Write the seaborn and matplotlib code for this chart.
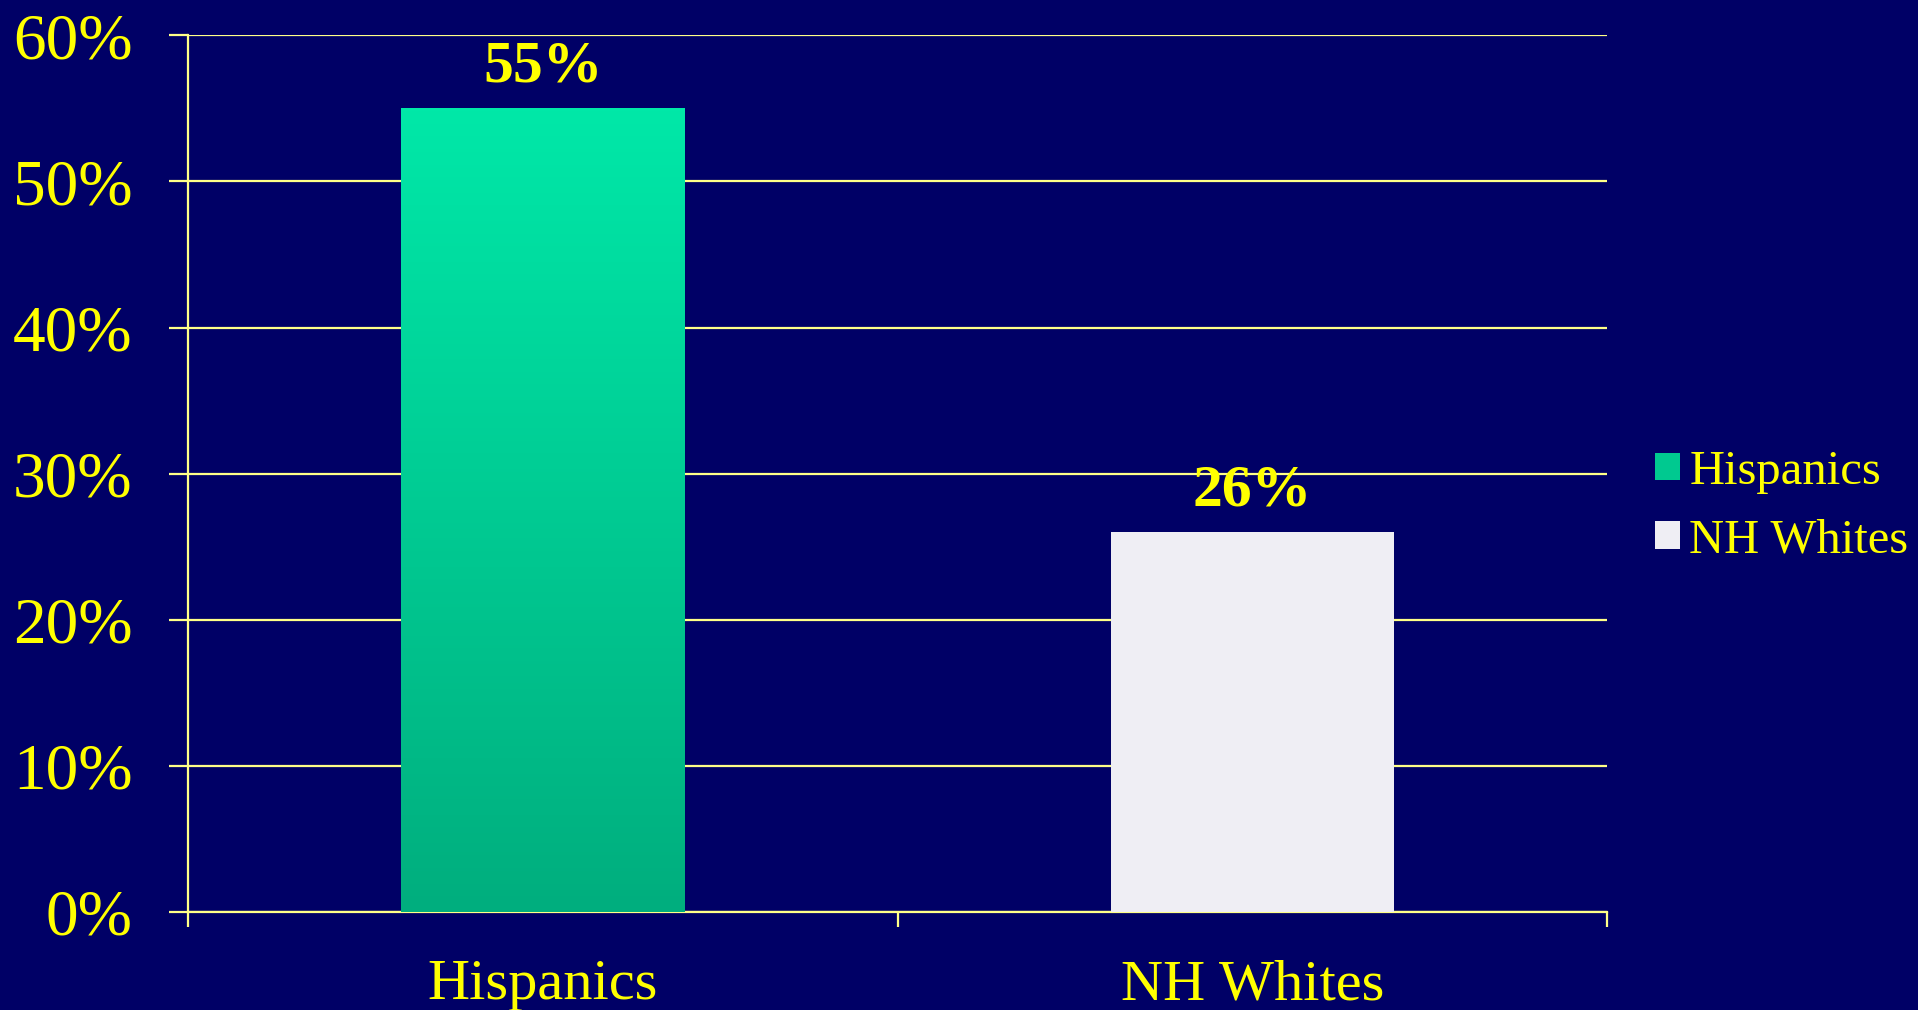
import numpy as np
import pandas as pd
import matplotlib
matplotlib.use("Agg")
import matplotlib.pyplot as plt
import seaborn as sns
from matplotlib.colors import LinearSegmentedColormap
from matplotlib.ticker import FuncFormatter

# data
groups = ["Hispanics", "NH Whites"]
values = [55, 26]
yticks = [0, 10, 20, 30, 40, 50, 60]

bg = "#000066"
yellow = "#FFFF00"
grid_col = "#FFFF88"
bar_colors = {"Hispanics": "#00C990", "NH Whites": "#EFEEF4"}

sns.set_theme(style="white")
plt.rcParams["font.family"] = ["Liberation Serif", "DejaVu Serif"]

df = pd.DataFrame({"group": groups, "value": values})

fig = plt.figure(figsize=(19.18, 10.10), dpi=100, facecolor=bg)
ax = fig.add_axes([0.098, 0.097, 0.74, 0.868])
ax.set_facecolor(bg)

sns.barplot(data=df, x="group", y="value", hue="group", palette=bar_colors,
            width=0.4, dodge=False, legend=True, ax=ax, zorder=3,
            linewidth=0, saturation=1)

ax.set_ylim(0, 60)
ax.set_xlim(-0.5, 1.5)
ax.set_yticks(yticks)
ax.yaxis.set_major_formatter(FuncFormatter(lambda v, p: f"{v:.0f}%"))
ax.set_xlabel("")
ax.set_ylabel("")

# gradient on the Hispanics bar
grad = LinearSegmentedColormap.from_list("g", ["#00AE7E", "#00E8A8"])
hisp_bar = ax.containers[0].patches[0]
x0, y0 = hisp_bar.get_x(), hisp_bar.get_y()
w, h = hisp_bar.get_width(), hisp_bar.get_height()
img = ax.imshow(np.linspace(0, 1, 256).reshape(-1, 1), cmap=grad, origin="lower",
                extent=[x0, x0 + w, y0, y0 + h], aspect="auto", zorder=4)
img.set_clip_path(hisp_bar)
ax.set_xlim(-0.5, 1.5)
ax.set_ylim(0, 60)

# value labels
for cont in ax.containers:
    ax.bar_label(cont, fmt="%d%%", padding=10, color=yellow, fontsize=43,
                 fontweight="bold", zorder=5)

# grid and spines
ax.yaxis.grid(True, color=grid_col, linewidth=1.6, zorder=1)
ax.xaxis.grid(False)
for s in ["top", "right"]:
    ax.spines[s].set_visible(False)
for s in ["left", "bottom"]:
    ax.spines[s].set_color(grid_col)
    ax.spines[s].set_linewidth(1.6)

ax.tick_params(axis="y", colors=grid_col, labelcolor=yellow, labelsize=47,
               length=14, width=1.6, pad=26, left=True)
ax.tick_params(axis="x", which="major", length=0, labelcolor=yellow,
               labelsize=42, pad=34)
ax.set_xticks([-0.5, 0.5, 1.5], minor=True)
ax.tick_params(axis="x", which="minor", bottom=True, length=11, width=1.6,
               colors=grid_col)

# legend
leg = ax.legend(loc="center left", bbox_to_anchor=(0.863, 0.499),
                bbox_transform=fig.transFigure, borderaxespad=0, borderpad=0,
                frameon=False, fontsize=35, handlelength=0.5, handleheight=0.5,
                handletextpad=0.2, labelspacing=0.5)
for t in leg.get_texts():
    t.set_color(yellow)

fig.savefig("out.png", dpi=100, facecolor=bg)
